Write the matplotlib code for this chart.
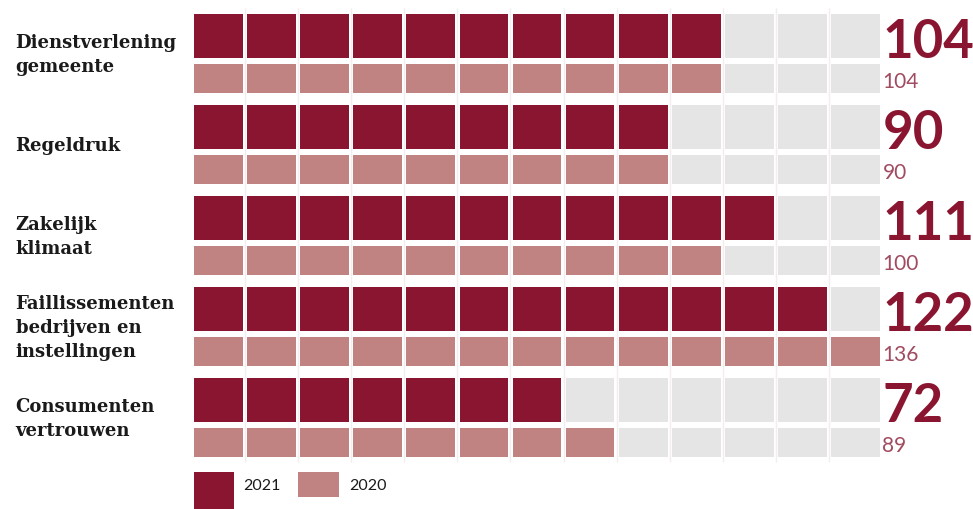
"""Block chart: 2021 vs 2020 index scores per theme (one block per 10 points)."""

import numpy as np
import matplotlib.pyplot as plt
from matplotlib.patches import Rectangle

# Data
CATEGORIES = [
    "Dienstverlening\ngemeente",
    "Regeldruk",
    "Zakelijk\nklimaat",
    "Faillissementen\nbedrijven en\ninstellingen",
    "Consumenten\nvertrouwen",
]
VALUES_2021 = [104, 90, 111, 122, 72]
VALUES_2020 = [104, 90, 100, 136, 89]
YEARS = ["2021", "2020"]
N_BLOCKS = 13
BLOCK_SIZE = 10

# Colors
COLORS = {
    "2021": "#8A1530",
    "2020": "#C08382",
    "empty": "#E5E5E5",
    "grid": "#F4ECEE",
    "small_num": "#A04B60",
    "label": "#1A1A1A",
}

W, H, DPI = 973, 509, 100

fig = plt.figure(figsize=(W / DPI, H / DPI), dpi=DPI)
fig.patch.set_facecolor("white")

# Main block axes: x in blocks, y in categories (pixel layout tuned to reference)
ax = fig.add_axes([194 / W, 1 - 469 / H, (880 - 194) / W, 455 / H])
bw = 0.915
row_h = {"2021": 44 / 91, "2020": 29 / 91}
row_off = {"2021": 0.0, "2020": 50 / 91}

ax.vlines(np.arange(1, N_BLOCKS) - (1 - bw) / 2, -0.07, 4.92,
          colors=COLORS["grid"], linewidth=1, zorder=0, clip_on=False)

x = np.arange(N_BLOCKS)
for i, (v21, v20) in enumerate(zip(VALUES_2021, VALUES_2020)):
    for year, val in (("2021", v21), ("2020", v20)):
        n = min(val // BLOCK_SIZE, N_BLOCKS)
        colors = [COLORS[year] if k < n else COLORS["empty"] for k in x]
        ax.bar(x, row_h[year], bottom=i + row_off[year], width=bw,
               align="edge", color=colors, linewidth=0, zorder=2)

    # value labels right of the blocks
    ax.text(N_BLOCKS - 0.04, i + row_h["2021"] + 0.005, str(v21),
            family="Lato", weight="bold", fontsize=38, color=COLORS["2021"],
            ha="left", va="baseline", clip_on=False)
    ax.text(N_BLOCKS - 0.04, i + row_off["2020"] + row_h["2020"] - 0.05, str(v20),
            family="Lato", weight="normal", fontsize=15, color=COLORS["small_num"],
            ha="left", va="baseline", clip_on=False)

    # category label
    ax.text(-3.36, i + 0.45, CATEGORIES[i], family="DejaVu Serif", weight="bold",
            fontsize=13, color=COLORS["label"], ha="left", va="center",
            linespacing=1.4, clip_on=False)

ax.set_xlim(0, N_BLOCKS - 1 + bw)
ax.set_ylim(5, 0)
ax.axis("off")

# Legend (overlay in pixel coordinates)
ov = fig.add_axes([0, 0, 1, 1], zorder=-1)
ov.set_xlim(0, W)
ov.set_ylim(H, 0)
ov.axis("off")
ov.add_patch(Rectangle((194, 472), 40, 40, color=COLORS["2021"], linewidth=0))
ov.text(243, 486, YEARS[0], family="Lato", fontsize=11.5, color="#1A1A1A",
        ha="left", va="center")
ov.add_patch(Rectangle((298, 472), 41, 25, color=COLORS["2020"], linewidth=0))
ov.text(349, 486, YEARS[1], family="Lato", fontsize=11.5, color="#1A1A1A",
        ha="left", va="center")

plt.savefig("out.png", dpi=DPI)
plt.close()
